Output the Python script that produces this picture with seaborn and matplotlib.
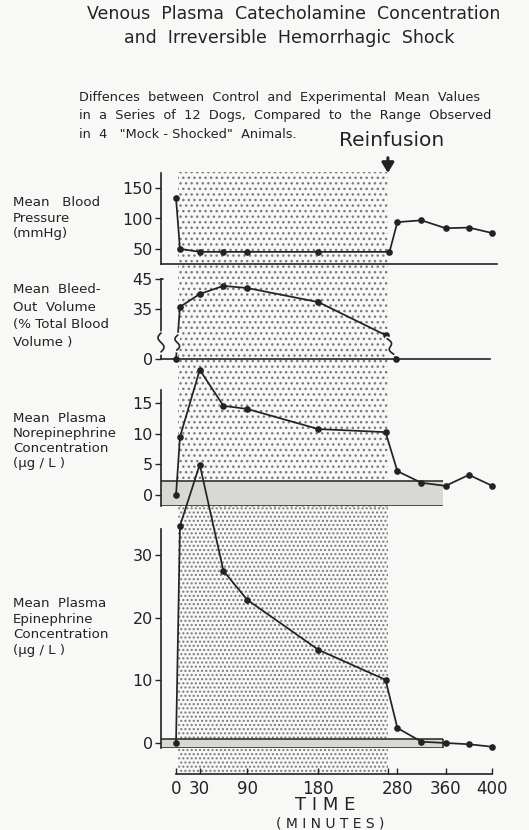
import numpy as np
import matplotlib
matplotlib.use("Agg")
import matplotlib.pyplot as plt
from matplotlib.transforms import IdentityTransform
import seaborn as sns

# ---------------- data ----------------
time_bp = [0, 5, 30, 60, 90, 180, 270, 280, 320, 360, 380, 400]
bp = [133, 50, 45, 45, 45, 45, 45, 94, 97, 84, 85, 76]

time_bleed = [0, 5, 30, 60, 90, 180, 265, 278]
bleed = [0, 35.7, 40, 42.7, 42, 37.3, 26.3, 0]

time_ne = [0, 5, 30, 60, 90, 180, 265, 280, 320, 360, 380, 400]
ne = [0, 9.5, 20.5, 14.6, 14.1, 10.8, 10.3, 3.9, 2.0, 1.5, 3.3, 1.5]

time_epi = [0, 5, 30, 60, 90, 180, 265, 280, 320, 360, 380, 400]
epi = [0, 34.7, 44.5, 27.5, 22.9, 14.9, 10.1, 2.4, 0.2, 0.0, -0.2, -0.6]

ne_mock_range = [-1.8, 2.3]
epi_mock_range = [-0.8, 0.6]
mock_end = 355
shock_period = [3, 268]
reinfusion = 268

time_ticks = [0, 30, 90, 180, 280, 360, 400]
time_tick_labels = ["0", "30", "90", "180", "280", "360", "400"]
bp_ticks = [50, 100, 150]
bleed_ticks = [0, 35, 45]
ne_ticks = [0, 5, 10, 15]
epi_ticks = [0, 10, 20, 30]

title_lines = ["Venous  Plasma  Catecholamine  Concentration",
               "and  Irreversible  Hemorrhagic  Shock"]
subtitle_lines = ["Diffences  between  Control  and  Experimental  Mean  Values",
                  "in  a  Series  of  12  Dogs,  Compared  to  the  Range  Observed",
                  "in  4   \"Mock - Shocked\"  Animals."]
panel_labels = ["Mean   Blood\nPressure\n(mmHg)",
                "Mean  Bleed-\nOut  Volume\n(% Total Blood\nVolume )",
                "Mean  Plasma\nNorepinephrine\nConcentration\n(\u00b5g / L )",
                "Mean  Plasma\nEpinephrine\nConcentration\n(\u00b5g / L )"]

# ---------------- style ----------------
sns.set_theme(style="white")
plt.rcParams["font.family"] = ["DejaVu Sans"]
plt.rcParams["font.weight"] = "normal"
INK = "#232323"
BG = "#f8f8f7"
DOT = "#7a7a7a"
BAND = "#d8d8d5"
plt.rcParams["hatch.linewidth"] = 1.0

W, H = 529, 830
fig = plt.figure(figsize=(W / 100, H / 100), dpi=100)
fig.patch.set_facecolor(BG)

LEFT, RIGHT = 161, 497
XLIM = (-19, 406)

# hand-drawn time axis: piecewise-linear spacing
KX = [-200, 0, 280, 360, 400, 700]
KP = [-200, 0, 280, 341, 400, 700]


def xfwd(x):
    return np.interp(x, KX, KP)


def xinv(p):
    return np.interp(p, KP, KX)


# broken bleed-out axis: 0..26 compressed
BKV = [-50, 0, 26, 200]
BKP = [18.33 - 50 * (7.67 / 26), 18.33, 26, 200]


def bfwd(v):
    return np.interp(v, BKV, BKP)


def binv(p):
    return np.interp(p, BKP, BKV)


def rect(top, bottom):
    return [LEFT / W, 1 - bottom / H, (RIGHT - LEFT) / W, (bottom - top) / H]


def prep(ax):
    ax.set_xscale("function", functions=(xfwd, xinv))
    ax.set_xlim(*XLIM)
    ax.set_facecolor("none")
    for s in ax.spines.values():
        s.set_visible(False)
        s.set_color(INK)
        s.set_linewidth(1.2)
    ax.set_xticks([])
    ax.tick_params(axis="y", direction="out", length=4, width=1.0, color=INK,
                   labelsize=11.5, labelcolor=INK, pad=2, left=True)
    ax.set_xlabel("")
    ax.set_ylabel("")


def squiggle(ax, p0, p1, f0, f1, amp=2.6):
    d0 = ax.transData.transform(p0)
    d1 = ax.transData.transform(p1)
    a = d0 + (d1 - d0) * f0
    b = d0 + (d1 - d0) * f1
    ax.plot([a[0], b[0]], [a[1], b[1]], transform=IdentityTransform(),
            color=BG, lw=3.5, clip_on=False, zorder=3)
    t = np.linspace(0, 1, 40)
    ax.plot(a[0] + (b[0] - a[0]) * t + amp * np.sin(2 * np.pi * t),
            a[1] + (b[1] - a[1]) * t, transform=IdentityTransform(),
            color=INK, lw=1.2, clip_on=False, zorder=4)


# ---------------- shock-period stipple ----------------
for top, bottom, hatch in [(172, 507, "..."), (507, 774, "....")]:
    ov = fig.add_axes(rect(top, bottom))
    prep(ov)
    ov.set_ylim(0, 1)
    ov.set_yticks([])
    ov.axvspan(shock_period[0], shock_period[1], facecolor="none",
               edgecolor=DOT, hatch=hatch, lw=0)

line_kw = dict(color=INK, marker="o", markersize=4.8, markeredgewidth=0,
               linewidth=1.25, clip_on=False, estimator=None, sort=False,
               legend=False)

# ---------------- BP ----------------
ax_bp = fig.add_axes(rect(173, 264))
prep(ax_bp)
sns.lineplot(x=time_bp, y=bp, ax=ax_bp, **line_kw)
ax_bp.set_ylim(25, 175)
ax_bp.set_yticks(bp_ticks)
ax_bp.spines["left"].set_visible(True)
ax_bp.spines["bottom"].set_visible(True)

# ---------------- bleed-out ----------------
ax_bl = fig.add_axes(rect(279, 359))
prep(ax_bl)
ax_bl.set_yscale("function", functions=(bfwd, binv))
sns.lineplot(x=time_bleed, y=bleed, ax=ax_bl, **line_kw)
ax_bl.set_ylim(0, 45)
ax_bl.set_yticks(bleed_ticks)
ax_bl.set_xlim(*XLIM)
ax_bl.spines["bottom"].set_visible(True)
ax_bl.spines["bottom"].set_bounds(XLIM[0], 398)
ax_bl.spines["left"].set_visible(True)
ax_bl.spines["left"].set_bounds(27, 45)
ax_bl.plot([XLIM[0], XLIM[0]], [8, 0], color=INK, lw=1.2, clip_on=False)
ax_bl.plot([XLIM[0], XLIM[0] + 3], [45, 45], color=INK, lw=1.2, clip_on=False)
squiggle(ax_bl, (XLIM[0], 27), (XLIM[0], 8), 0.0, 1.0, amp=-3.0)
squiggle(ax_bl, (time_bleed[0], bleed[0]), (time_bleed[1], bleed[1]), 0.17, 0.46)
squiggle(ax_bl, (time_bleed[-2], bleed[-2]), (time_bleed[-1], bleed[-1]), 0.15, 0.8)

# ---------------- norepinephrine ----------------
ax_ne = fig.add_axes(rect(390, 506))
prep(ax_ne)
ax_ne.fill_between([XLIM[0], mock_end], ne_mock_range[0], ne_mock_range[1],
                   color=BAND, lw=0, zorder=0)
ax_ne.hlines(ne_mock_range, XLIM[0], mock_end, color=INK, lw=1.1, zorder=1)
sns.lineplot(x=time_ne, y=ne, ax=ax_ne, **line_kw)
ax_ne.set_ylim(-1.8, 17.2)
ax_ne.set_yticks(ne_ticks)
ax_ne.spines["left"].set_visible(True)

# ---------------- epinephrine ----------------
ax_ep = fig.add_axes(rect(529, 748))
prep(ax_ep)
ax_ep.fill_between([XLIM[0], mock_end], epi_mock_range[0], epi_mock_range[1],
                   color=BAND, lw=0, zorder=0)
ax_ep.hlines(epi_mock_range, XLIM[0], mock_end, color=INK, lw=1.1, zorder=1)
ax_ep.vlines(mock_end, epi_mock_range[0], epi_mock_range[1], color=INK, lw=1.1)
sns.lineplot(x=time_epi, y=epi, ax=ax_ep, **line_kw)
ax_ep.set_ylim(-0.8, 34.2)
ax_ep.set_yticks(epi_ticks)
ax_ep.spines["left"].set_visible(True)

# ---------------- time axis ----------------
ax_t = fig.add_axes(rect(764, 774))
prep(ax_t)
ax_t.set_ylim(0, 1)
ax_t.set_yticks([])
ax_t.spines["bottom"].set_visible(True)
ax_t.spines["bottom"].set_bounds(0, 400)
ax_t.set_xticks(time_ticks)
ax_t.set_xticklabels(time_tick_labels)
ax_t.set_xticks([reinfusion], minor=True)
ax_t.tick_params(axis="x", which="both", direction="in", length=4, width=1.0,
                 color=INK, labelsize=12, labelcolor=INK, pad=4, bottom=True)

# ---------------- texts ----------------
def fy(px):
    return 1 - px / H


fig.text(294 / W, fy(14), title_lines[0], ha="center", va="center",
         fontsize=12.5, color=INK)
fig.text(289 / W, fy(38), title_lines[1], ha="center", va="center",
         fontsize=12.5, color=INK)
for i, s in enumerate(subtitle_lines):
    fig.text(79 / W, fy(97 + 19 * i), s, ha="left", va="center",
             fontsize=9.3, color=INK)
fig.text(392 / W, fy(141), "Reinfusion", ha="center", va="center",
         fontsize=14.5, color=INK)
ax_bp.annotate("", xy=(reinfusion, 1.0), xycoords=ax_bp.get_xaxis_transform(),
               xytext=(0, 11), textcoords="offset points",
               arrowprops=dict(arrowstyle="-|>,head_width=0.3,head_length=0.5",
                               lw=2.2, color=INK, shrinkA=0, shrinkB=0))

for lab, yc, ls in zip(panel_labels, [218, 316, 441, 627], [1.2, 1.45, 1.2, 1.25]):
    fig.text(13 / W, fy(yc), lab, ha="left", va="center", fontsize=9.6,
             color=INK, linespacing=ls)

fig.text(325 / W, fy(805), "T I M E", ha="center", va="center",
         fontsize=13, color=INK)
fig.text(330 / W, fy(823), "( M I N U T E S )", ha="center", va="center",
         fontsize=10, color=INK)

fig.savefig("out.png", dpi=100, facecolor=BG)
